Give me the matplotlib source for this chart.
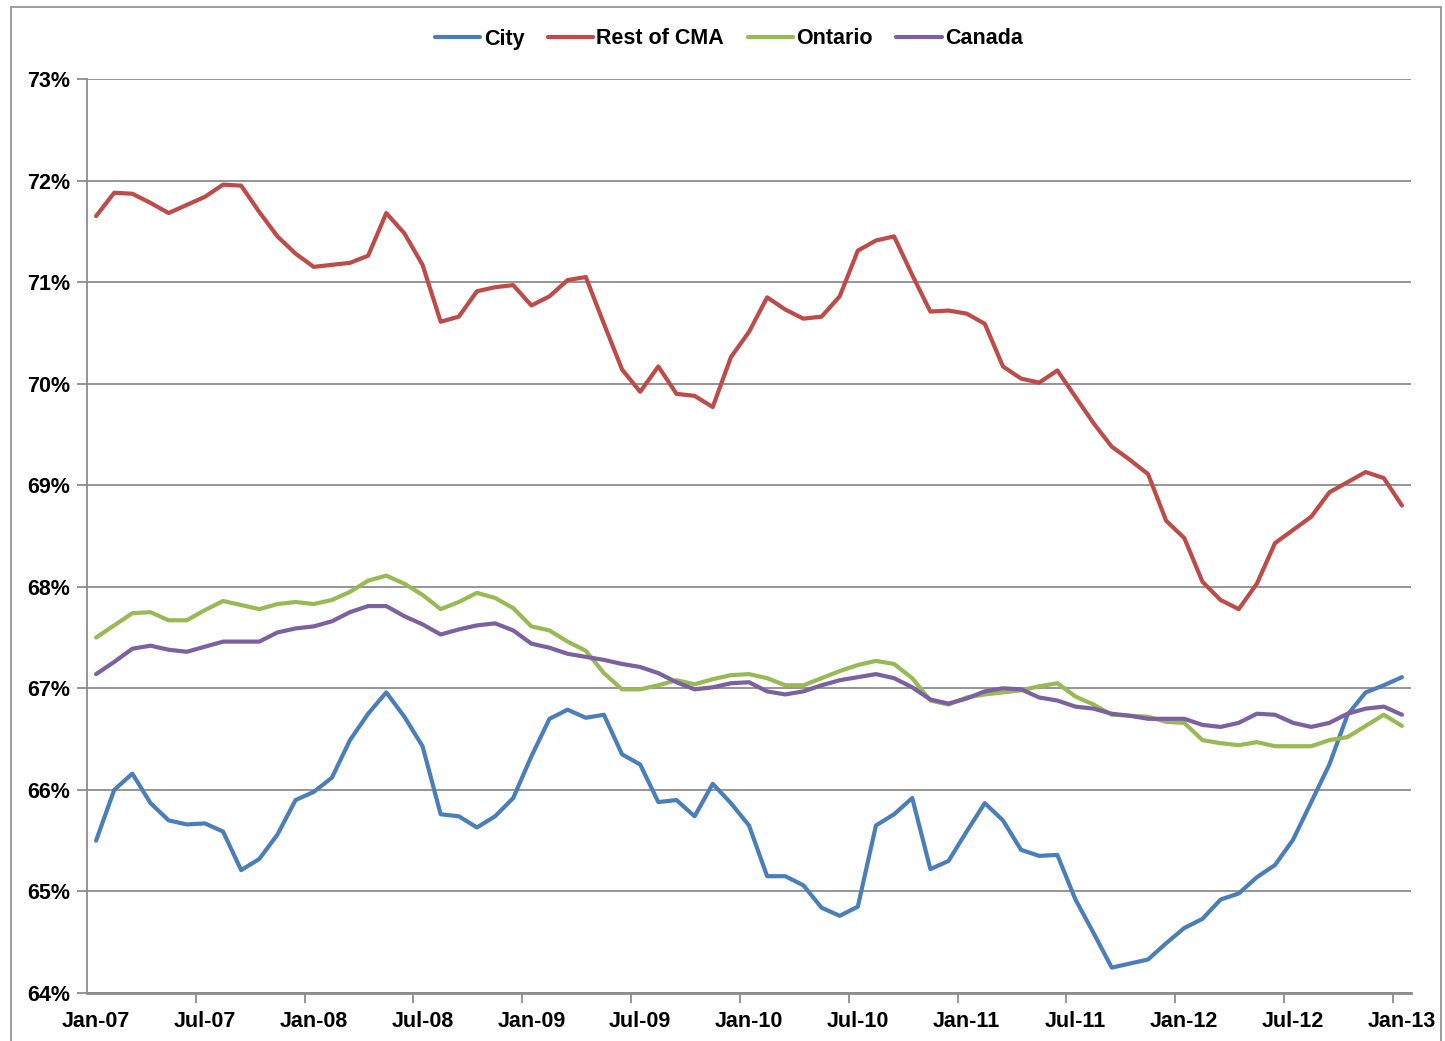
import matplotlib
matplotlib.use("Agg")
import matplotlib.pyplot as plt
from matplotlib.patches import Rectangle
from matplotlib.ticker import FixedLocator, NullFormatter

plt.rcParams['font.family'] = ['Liberation Sans', 'DejaVu Sans']

# Monthly series, Jan-07 through Jan-13 (percent)
months = ["Jan-07", "Jul-07", "Jan-08", "Jul-08", "Jan-09", "Jul-09", "Jan-10",
          "Jul-10", "Jan-11", "Jul-11", "Jan-12", "Jul-12", "Jan-13"]

city = [65.50, 66.00, 66.16, 65.87, 65.70, 65.66, 65.67, 65.59, 65.21, 65.32,
        65.56, 65.90, 65.98, 66.12, 66.49, 66.75, 66.96, 66.72, 66.43, 65.76,
        65.74, 65.63, 65.74, 65.92, 66.33, 66.70, 66.79, 66.71, 66.74, 66.35,
        66.25, 65.88, 65.90, 65.74, 66.06, 65.87, 65.65, 65.15, 65.15, 65.06,
        64.84, 64.76, 64.85, 65.65, 65.76, 65.92, 65.22, 65.30, 65.59, 65.87,
        65.70, 65.41, 65.35, 65.36, 64.92, 64.59, 64.25, 64.29, 64.33, 64.49,
        64.64, 64.73, 64.92, 64.98, 65.14, 65.26, 65.51, 65.88, 66.25, 66.74,
        66.96, 67.03, 67.11]

rest_of_cma = [71.65, 71.88, 71.87, 71.78, 71.68, 71.76, 71.84, 71.96, 71.95, 71.69,
               71.45, 71.28, 71.15, 71.17, 71.19, 71.26, 71.68, 71.48, 71.17, 70.61,
               70.66, 70.91, 70.95, 70.97, 70.77, 70.86, 71.02, 71.05, 70.59, 70.14,
               69.92, 70.17, 69.90, 69.88, 69.77, 70.26, 70.51, 70.85, 70.73, 70.64,
               70.66, 70.86, 71.31, 71.41, 71.45, 71.07, 70.71, 70.72, 70.69, 70.59,
               70.17, 70.05, 70.01, 70.13, 69.87, 69.61, 69.38, 69.25, 69.11, 68.65,
               68.48, 68.05, 67.87, 67.78, 68.03, 68.43, 68.56, 68.69, 68.93, 69.03,
               69.13, 69.07, 68.80]

ontario = [67.50, 67.62, 67.74, 67.75, 67.67, 67.67, 67.77, 67.86, 67.82, 67.78,
           67.83, 67.85, 67.83, 67.87, 67.95, 68.06, 68.11, 68.03, 67.92, 67.78,
           67.85, 67.94, 67.89, 67.79, 67.61, 67.57, 67.46, 67.37, 67.15, 66.99,
           66.99, 67.03, 67.08, 67.04, 67.09, 67.13, 67.14, 67.10, 67.03, 67.03,
           67.10, 67.17, 67.23, 67.27, 67.24, 67.10, 66.88, 66.84, 66.91, 66.94,
           66.96, 66.98, 67.02, 67.05, 66.92, 66.84, 66.74, 66.73, 66.72, 66.67,
           66.66, 66.49, 66.46, 66.44, 66.47, 66.43, 66.43, 66.43, 66.49, 66.52,
           66.63, 66.74, 66.63]

canada = [67.14, 67.26, 67.39, 67.42, 67.38, 67.36, 67.41, 67.46, 67.46, 67.46,
          67.55, 67.59, 67.61, 67.66, 67.75, 67.81, 67.81, 67.71, 67.63, 67.53,
          67.58, 67.62, 67.64, 67.57, 67.44, 67.40, 67.34, 67.31, 67.28, 67.24,
          67.21, 67.15, 67.06, 66.99, 67.01, 67.05, 67.06, 66.97, 66.94, 66.97,
          67.03, 67.08, 67.11, 67.14, 67.10, 67.01, 66.89, 66.85, 66.90, 66.97,
          67.00, 66.99, 66.91, 66.88, 66.82, 66.80, 66.75, 66.73, 66.70, 66.70,
          66.70, 66.64, 66.62, 66.66, 66.75, 66.74, 66.66, 66.62, 66.66, 66.75,
          66.80, 66.82, 66.74]

series = [("City", city, "#4A7EBB"),
          ("Rest of CMA", rest_of_cma, "#BE4B48"),
          ("Ontario", ontario, "#98B954"),
          ("Canada", canada, "#7D60A0")]

W, H = 1445, 1041
fig = plt.figure(figsize=(W / 100, H / 100), dpi=100)
ax = fig.add_axes([87 / W, 1 - 993 / H, (1411 - 87) / W, (993 - 79) / H])

x = list(range(len(city)))
for name, vals, color in series:
    ax.plot(x, vals, color=color, lw=3.0, label=name, solid_joinstyle='round',
            solid_capstyle='round', zorder=3)

grid_col = "#8C8C8C"
ax.set_xlim(-0.5, len(city) - 0.5)
ax.set_ylim(64, 73)
ax.set_yticks(range(64, 74))
ax.set_yticklabels([f"{v}%" for v in range(64, 74)])
ax.yaxis.grid(True, color=grid_col, lw=1.3, zorder=1)

# category ticks sit between months, labels centred on months
ax.xaxis.set_major_locator(FixedLocator([i - 0.5 for i in range(6, len(city) + 1, 6)]))
ax.xaxis.set_major_formatter(NullFormatter())
ax.xaxis.set_minor_locator(FixedLocator(list(range(0, len(city), 6))))
ax.set_xticklabels(months, minor=True)
ax.tick_params(axis='x', which='major', length=7, width=1.3, color=grid_col)
ax.tick_params(axis='x', which='minor', length=0, pad=13, labelsize=15.5)
ax.tick_params(axis='y', length=7, width=1.3, color=grid_col, labelsize=15.5, pad=5)
for lab in ax.get_xticklabels(minor=True) + ax.get_yticklabels():
    lab.set_fontweight('bold')

for side in ("top", "right"):
    ax.spines[side].set_visible(False)
ax.spines["left"].set_color(grid_col)
ax.spines["left"].set_linewidth(1.3)
ax.spines["bottom"].set_color(grid_col)
ax.spines["bottom"].set_linewidth(2.0)

leg = fig.legend(loc="center", bbox_to_anchor=(729 / W, 1 - 39 / H), ncol=4,
                 frameon=False, handlelength=2.1, handletextpad=0.15,
                 columnspacing=1.1, prop={'weight': 'bold', 'size': 15.5})

# chart-area border
fig.patches.append(Rectangle((11 / W, -0.01), (1441 - 11) / W, 1 - 7 / H + 0.01,
                             transform=fig.transFigure, fill=False,
                             edgecolor="#8C8C8C", lw=1.2))

fig.savefig("out.png", dpi=100)
